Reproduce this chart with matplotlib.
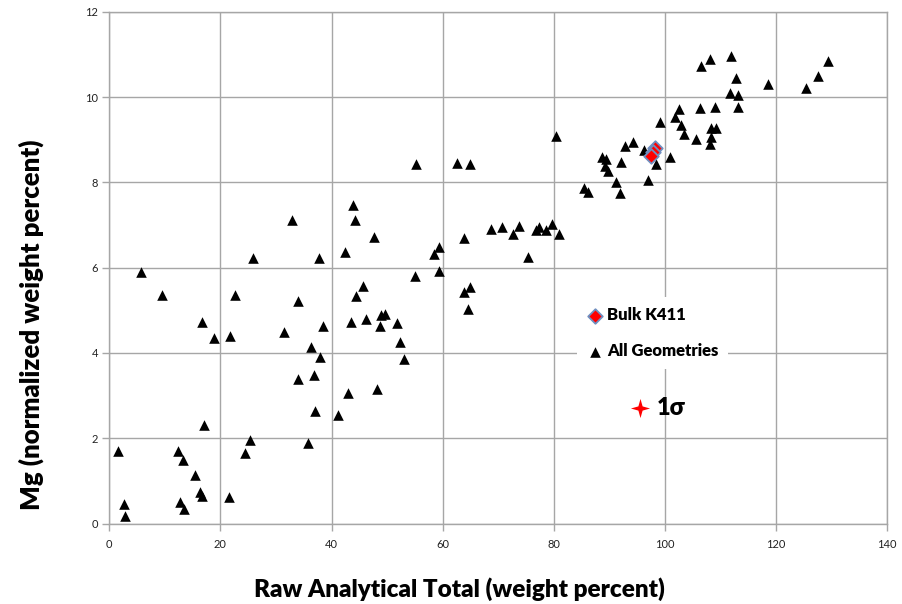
import matplotlib
matplotlib.use("Agg")
import matplotlib.pyplot as plt

# All Geometries (raw total, Mg normalized wt%)
geo_x = [1.6, 2.7, 2.8, 12.4, 13.3, 15.4, 16.4, 16.6, 12.8, 13.4, 17.0, 21.5, 25.4, 24.5,
         35.7, 37.1, 5.7, 9.5, 16.7, 18.8, 22.6, 21.7, 25.9, 37.7, 34.0, 31.4, 38.5, 36.3,
         37.9, 36.8, 34.0, 32.9, 43.8, 44.3, 47.7, 42.4, 55.2, 62.6, 64.9, 59.4, 58.4, 63.9,
         59.3, 55.0, 45.6, 44.4, 65.0, 63.9, 68.7, 70.7, 72.6, 73.7, 75.3, 76.8, 77.4, 78.6,
         79.6, 80.9, 80.4, 43.5, 46.2, 48.9, 49.7, 48.7, 51.8, 52.4, 53.0, 42.9, 48.2, 41.1,
         64.6, 85.4, 86.2, 88.7, 89.4, 89.3, 89.7, 92.2, 91.2, 91.9, 92.8, 94.3, 96.3, 96.9,
         98.5, 99.1, 100.9, 101.8, 102.6, 103.0, 103.5, 105.7, 106.4, 109.0, 108.4, 109.3,
         108.3, 108.2, 106.5, 108.1, 112.0, 112.8, 111.7, 113.1, 113.1, 118.5, 125.5, 127.5,
         129.4]
geo_y = [1.71, 0.45, 0.19, 1.70, 1.50, 1.13, 0.75, 0.65, 0.51, 0.34, 2.30, 0.63, 1.96, 1.66,
         1.90, 2.65, 5.90, 5.37, 4.73, 4.34, 5.35, 4.40, 6.23, 6.23, 5.23, 4.50, 4.64, 4.15,
         3.91, 3.48, 3.39, 7.11, 7.46, 7.12, 6.72, 6.37, 8.43, 8.45, 8.42, 6.49, 6.33, 6.70,
         5.93, 5.80, 5.56, 5.34, 5.55, 5.44, 6.90, 6.95, 6.80, 6.98, 6.25, 6.88, 6.96, 6.89,
         7.02, 6.79, 9.08, 4.73, 4.80, 4.89, 4.92, 4.63, 4.70, 4.25, 3.85, 3.07, 3.16, 2.54,
         5.02, 7.86, 7.78, 8.60, 8.54, 8.39, 8.27, 8.47, 8.01, 7.75, 8.86, 8.95, 8.77, 8.05,
         8.44, 9.41, 8.59, 9.54, 9.73, 9.35, 9.13, 9.02, 9.74, 9.76, 9.27, 9.27,
         9.06, 8.90, 10.73, 10.90, 10.96, 10.45, 10.09, 10.05, 9.76, 10.31, 10.21, 10.49,
         10.84]

# Bulk K411
bulk_x = [98.3, 97.9, 97.5]
bulk_y = [8.81, 8.70, 8.62]

# 1 sigma marker
sigma_x = [95.5]
sigma_y = [2.71]

x_ticks = [0, 20, 40, 60, 80, 100, 120, 140]
y_ticks = [0, 2, 4, 6, 8, 10, 12]

FONT = ['Lato', 'DejaVu Sans']
plt.rcParams['font.family'] = FONT

fig = plt.figure(figsize=(9.02, 6.04), dpi=100)
ax = fig.add_axes([0.1212, 0.1331, 0.8622, 0.8475])

grid_c = '#A6A6A6'
ax.set_xlim(0, 140)
ax.set_ylim(0, 12)
ax.set_xticks(x_ticks)
ax.set_yticks(y_ticks)
ax.grid(True, color=grid_c, linewidth=1.0, zorder=0)
for s in ax.spines.values():
    s.set_color(grid_c)
    s.set_linewidth(1.0)
ax.tick_params(axis='both', colors=grid_c, length=5, width=1.0, labelsize=8,
               labelcolor='#222222')
ax.tick_params(axis='x', pad=6)
ax.tick_params(axis='y', pad=3)

h_geo = ax.scatter(geo_x, geo_y, marker='^', s=58, color='black', linewidths=0,
                   zorder=3, label='All Geometries')
h_bulk = ax.scatter(bulk_x, bulk_y, marker='D', s=55, facecolor='#FF0000',
                    edgecolor='#6F8FC0', linewidths=1.3, zorder=4, label='Bulk K411')

star = [(0, 1), (0.22, 0.22), (1, 0), (0.22, -0.22), (0, -1), (-0.22, -0.22), (-1, 0),
        (-0.22, 0.22), (0, 1)]
ax.scatter(sigma_x, sigma_y, marker=star, s=190, color='#FF0000', linewidths=0, zorder=5)
ax.text(sigma_x[0] + 3.0, sigma_y[0], '1σ', fontsize=17, fontweight='heavy',
        va='center', ha='left', family=FONT, zorder=5)

leg = ax.legend(handles=[h_bulk, h_geo], loc='upper left',
                bbox_to_anchor=(0.601, 0.4427), frameon=True, fancybox=False,
                framealpha=1.0, edgecolor='none', facecolor='white',
                prop={'family': FONT, 'weight': 'heavy', 'size': 12},
                labelspacing=1.2, handletextpad=0.2, handlelength=1.0,
                borderpad=0.6, borderaxespad=0.0, scatterpoints=1)
leg.set_zorder(6)

ax.set_xlabel('Raw Analytical Total (weight percent)', fontsize=17.5, fontweight='heavy')
ax.set_ylabel('Mg (normalized weight percent)', fontsize=18.5, fontweight='heavy')
ax.xaxis.set_label_coords(0.45, -0.105)
ax.yaxis.set_label_coords(-0.084, 0.388)

fig.savefig('out.png', dpi=100)
